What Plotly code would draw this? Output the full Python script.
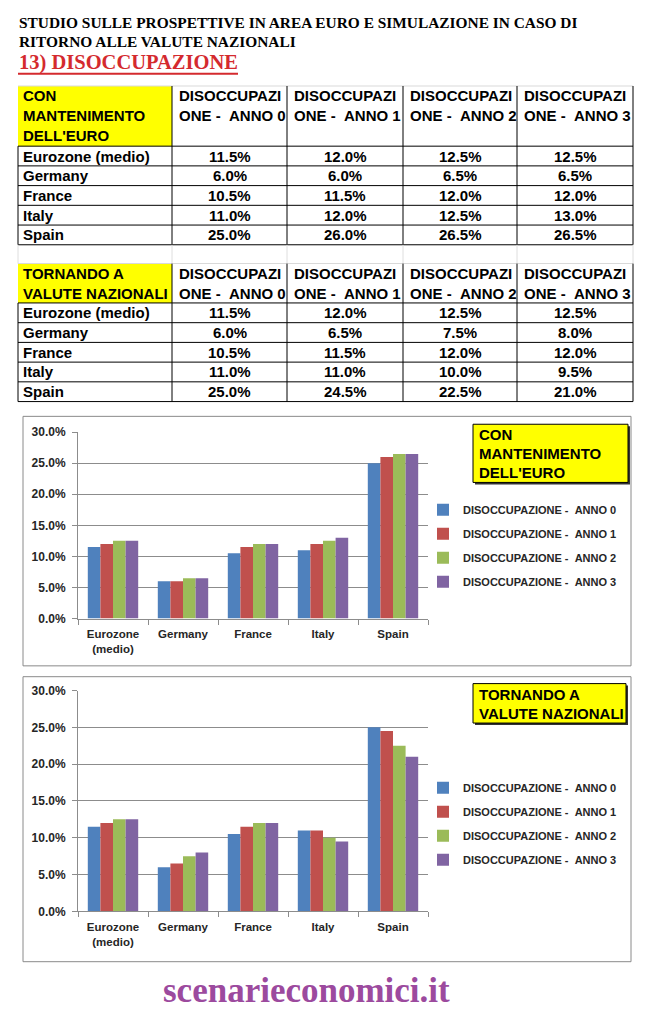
import plotly.graph_objects as go

# The page body keeps its default 8px margin on every side, so the figure is
# made 16px smaller than the window and every position below is given in
# window pixels.
OFF = 8
W, H = 660 - 2 * OFF, 1026 - 2 * OFF

# ---------------- data ----------------
categories = ["Eurozone (medio)", "Germany", "France", "Italy", "Spain"]
series_names = [
    "DISOCCUPAZIONE - \u00a0ANNO 0",
    "DISOCCUPAZIONE - \u00a0ANNO 1",
    "DISOCCUPAZIONE - \u00a0ANNO 2",
    "DISOCCUPAZIONE - \u00a0ANNO 3",
]
# scenario 1: con mantenimento dell'euro (percent)
euro_anno0 = [11.5, 6.0, 10.5, 11.0, 25.0]
euro_anno1 = [12.0, 6.0, 11.5, 12.0, 26.0]
euro_anno2 = [12.5, 6.5, 12.0, 12.5, 26.5]
euro_anno3 = [12.5, 6.5, 12.0, 13.0, 26.5]
# scenario 2: tornando a valute nazionali (percent)
naz_anno0 = [11.5, 6.0, 10.5, 11.0, 25.0]
naz_anno1 = [12.0, 6.5, 11.5, 11.0, 24.5]
naz_anno2 = [12.5, 7.5, 12.0, 10.0, 22.5]
naz_anno3 = [12.5, 8.0, 12.0, 9.5, 21.0]
y_ticks = [0, 5, 10, 15, 20, 25, 30]
scenario1_title = ["CON", "MANTENIMENTO", "DELL'EURO"]
scenario2_title = ["TORNANDO A", "VALUTE NAZIONALI"]
doc_title = ["STUDIO SULLE PROSPETTIVE IN AREA EURO E SIMULAZIONE IN CASO DI",
             "RITORNO ALLE VALUTE NAZIONALI"]
section_title = "13) DISOCCUPAZIONE"
footer = "scenarieconomici.it"

scen1 = [euro_anno0, euro_anno1, euro_anno2, euro_anno3]
scen2 = [naz_anno0, naz_anno1, naz_anno2, naz_anno3]

# ---------------- style ----------------
colors = ["#4F81BD", "#C0504D", "#9BBB59", "#8064A2"]
table_font = "Arial, 'Liberation Sans', sans-serif"
chart_font = "Arial, 'Liberation Sans', sans-serif"
serif_font = "'Liberation Serif', 'Times New Roman', serif"
grid_col = "#8c8c8c"
chart_text = "#262626"


def X(p):
    return (p - OFF) / W


def Y(p):
    return 1 - (p - OFF) / H


shapes = []
annotations = []


def line(x0, y0, x1, y1, color="black", width=1):
    shapes.append(dict(type="line", xref="paper", yref="paper",
                       x0=X(x0), y0=Y(y0), x1=X(x1), y1=Y(y1),
                       line=dict(color=color, width=width)))


def rect(x0, y0, x1, y1, fill=None, color=None, width=1, layer="above"):
    shapes.append(dict(type="rect", xref="paper", yref="paper", layer=layer,
                       x0=X(x0), y0=Y(y0), x1=X(x1), y1=Y(y1),
                       fillcolor=fill if fill else "rgba(0,0,0,0)",
                       line=dict(color=color if color else "rgba(0,0,0,0)",
                                 width=width if color else 0)))


def text(x, y, s, size, family, color="black", xanchor="left", bold=True):
    annotations.append(dict(xref="paper", yref="paper", x=X(x), y=Y(y),
                            text=f"<b>{s}</b>" if bold else s,
                            showarrow=False, xanchor=xanchor, yanchor="middle",
                            font=dict(size=size, family=family, color=color)))


# ---------------- titles ----------------
text(17, 16, doc_title[0], 15.4, serif_font)
text(17, 35, doc_title[1], 15.4, serif_font)
text(17, 56.5, section_title, 20.5, serif_font, color="#D42A2E")
line(18, 67.5, 238, 67.5, color="#D42A2E", width=2)

# ---------------- tables ----------------
col_edges = [18, 172, 287, 403, 517, 633]
ROW_H = 20


def draw_table(top, header_h, title_lines, values):
    hb = top + header_h
    n = len(categories)
    bottom = hb + ROW_H * n
    rect(col_edges[0], top, col_edges[1], hb, fill="#FFFF00", layer="below")
    line(col_edges[0], top, col_edges[-1], top, color="#d9d9d9")
    for i in range(n + 1):
        yy = hb + ROW_H * i
        line(col_edges[0], yy, col_edges[-1], yy)
    for xx in col_edges:
        line(xx, top if xx != col_edges[0] else hb, xx, bottom)
    for j, s in enumerate(title_lines):
        text(col_edges[0] + 3, top + 10 + 20 * j, s, 15, table_font)
    for k, name in enumerate(series_names):
        parts = [name[:11], name[11:]]
        for j, s in enumerate(parts):
            text(col_edges[k + 1] + 5, top + 10 + 20 * j, s, 15, table_font)
    for i, cat in enumerate(categories):
        yc = hb + ROW_H * i + 10
        text(col_edges[0] + 3, yc, cat, 15, table_font)
        for k in range(len(values)):
            xc = (col_edges[k + 1] + col_edges[k + 2]) / 2
            text(xc, yc, f"{values[k][i]:.1f}%", 15, table_font, xanchor="center")
    return bottom


b1 = draw_table(80, 61, scenario1_title, scen1)
draw_table(260, 40, scenario2_title, scen2)
# faint spreadsheet gridlines in the gap
for xx in col_edges:
    line(xx, b1, xx, 260, color="#dedede")

# ---------------- charts ----------------
fig = go.Figure()
x_labels = [c.replace(" (", "<br>(") for c in categories]

for k in range(4):
    fig.add_trace(go.Bar(x=x_labels, y=scen1[k], name=series_names[k],
                         marker=dict(color=colors[k], line=dict(width=0)),
                         xaxis="x", yaxis="y", legend="legend",
                         legendgroup=f"a{k}", hoverinfo="skip"))
for k in range(4):
    fig.add_trace(go.Bar(x=x_labels, y=scen2[k], name=series_names[k],
                         marker=dict(color=colors[k], line=dict(width=0)),
                         xaxis="x2", yaxis="y2", legend="legend2",
                         legendgroup=f"b{k}", hoverinfo="skip"))

plot_x = [X(78), X(428)]
yax = dict(range=[0, 30], tickmode="array", tickvals=y_ticks,
           ticktext=[f"{v:.1f}%" for v in y_ticks],
           showgrid=True, gridcolor=grid_col, gridwidth=1,
           showline=True, linecolor=grid_col, linewidth=1,
           ticks="outside", ticklen=5, tickcolor=grid_col,
           ticklabelstandoff=4,
           tickfont=dict(family=chart_font, size=12, color=chart_text,
                         weight="bold"),
           zeroline=False, fixedrange=True)
xax = dict(type="category", showgrid=False, showline=True, linecolor=grid_col,
           linewidth=1, ticks="outside", tickson="boundaries", ticklen=5,
           tickcolor=grid_col, ticklabelstandoff=5,
           tickfont=dict(family=chart_font, size=11.5, color=chart_text,
                         weight="bold"),
           fixedrange=True)

legend_common = dict(xanchor="left", yanchor="top", bgcolor="rgba(0,0,0,0)",
                     font=dict(family=chart_font, size=11, color=chart_text,
                               weight="bold"),
                     tracegroupgap=5, itemclick=False, itemdoubleclick=False)

# chart frames
rect(23, 415, 631, 668, color="#8a8a8a")
rect(23, 679, 631, 968, color="#8a8a8a")

# scenario boxes inside charts
rect(475, 425, 630, 484, fill="#333333", layer="below")
rect(473, 423, 628, 482, fill="#FFFF00", color="black")
for j, s in enumerate(scenario1_title):
    text(477, 433 + 19.5 * j, s, 15, table_font)
rect(475, 688, 628, 728, fill="#333333", layer="below")
rect(473, 686, 626, 726, fill="#FFFF00", color="black")
for j, s in enumerate(scenario2_title):
    text(477, 697 + 19.5 * j, s, 15, table_font)

# footer
text(306, 997, footer, 35, serif_font, color="#9C4A9E", xanchor="center")

fig.update_layout(
    width=W, height=H, autosize=False,
    margin=dict(l=0, r=0, t=0, b=0),
    paper_bgcolor="white", plot_bgcolor="white",
    barmode="group", bargap=0.28, bargroupgap=0,
    xaxis=dict(domain=plot_x, anchor="y", **xax),
    yaxis=dict(domain=[Y(620), Y(431)], anchor="x", **yax),
    xaxis2=dict(domain=plot_x, anchor="y2", **xax),
    yaxis2=dict(domain=[Y(917), Y(693)], anchor="x2", **yax),
    legend=dict(x=X(423), y=Y(495), **legend_common),
    legend2=dict(x=X(423), y=Y(777), **legend_common),
    shapes=shapes, annotations=annotations,
    showlegend=True,
)

fig.write_html("out.html")
